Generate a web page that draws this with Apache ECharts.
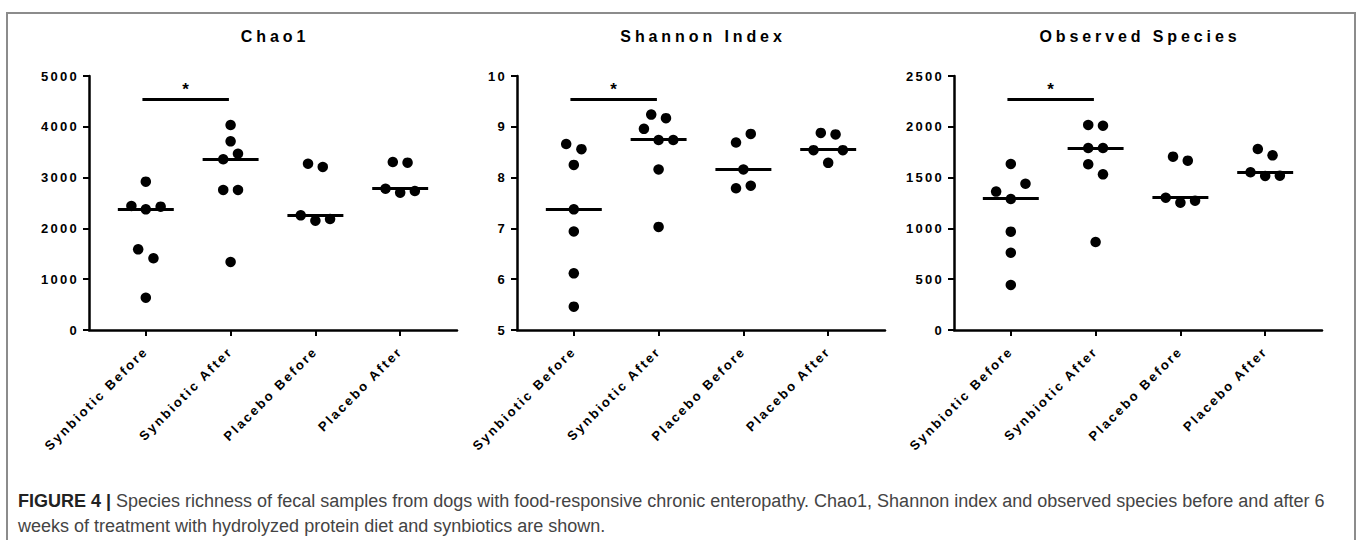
<!DOCTYPE html>
<html>
<head>
<meta charset="utf-8">
<script src="https://cdn.jsdelivr.net/npm/echarts@6/dist/echarts.min.js"></script>
<style>
  html, body { margin: 0; padding: 0; background: #fff; }
  #chart { width: 1358px; height: 540px; }
  #chart text[style*="13px"], #chart text[font-size="13px"] { letter-spacing: 2.3px; }
  #chart text[style*="16px"], #chart text[font-size="16px"] { letter-spacing: 3.9px; }
</style>
</head>
<body>
<div id="chart"></div>
<script>
// ---------- data ----------
const categories = ['Synbiotic Before', 'Synbiotic After', 'Placebo Before', 'Placebo After'];
const panelTitles = ['Chao1', 'Shannon Index', 'Observed Species'];

// Chao1
const chaoSynBefore = [2920, 2441, 2375, 2428, 1588, 1411, 636];
const chaoSynAfter = [4035, 3714, 3360, 3471, 2756, 2756, 1339];
const chaoPlaBefore = [3274, 3209, 2257, 2152, 2185];
const chaoPlaAfter = [3307, 3294, 2782, 2703, 2736];
const chaoMedians = [2380, 3365, 2262, 2787];
const chaoSigBar = 4547;

// Shannon index
const shanSynBefore = [8.66, 8.56, 8.25, 7.375, 6.94, 6.115, 5.46];
const shanSynAfter = [9.24, 9.17, 8.96, 8.74, 8.74, 8.16, 7.03];
const shanPlaBefore = [8.69, 8.86, 8.16, 7.79, 7.84];
const shanPlaAfter = [8.88, 8.85, 8.54, 8.54, 8.29];
const shanMedians = [7.375, 8.75, 8.17, 8.55];
const shanSigBar = 9.55;

// Observed species
const obsSynBefore = [1634, 1362, 1440, 1289, 968, 761, 443];
const obsSynAfter = [2018, 2011, 1791, 1791, 1631, 1532, 866];
const obsPlaBefore = [1706, 1667, 1302, 1253, 1273];
const obsPlaAfter = [1781, 1719, 1552, 1516, 1519];
const obsMedians = [1293, 1791, 1306, 1555];
const obsSigBar = 2273;

// horizontal spread of the dots within each group (x-axis units)
const chaoJitter = [
  [0, -0.17, 0, 0.175, -0.09, 0.09, 0],
  [0, 0, -0.087, 0.087, -0.087, 0.087, 0],
  [-0.087, 0.087, -0.173, 0, 0.173],
  [-0.087, 0.087, -0.173, 0, 0.173]
];
const shanJitter = [
  [-0.09, 0.09, 0, 0, 0, 0, 0],
  [-0.087, 0.087, -0.173, 0, 0.173, 0, 0],
  [-0.087, 0.087, 0, -0.087, 0.087],
  [-0.087, 0.087, -0.173, 0.173, 0]
];
const obsJitter = [
  [0, -0.173, 0.173, 0, 0, 0, 0],
  [-0.087, 0.087, -0.087, 0.087, -0.087, 0.087, 0],
  [-0.087, 0.087, -0.173, 0, 0.173],
  [-0.087, 0.087, -0.173, 0, 0.173]
];

// y-axis ranges
const yMin = [0, 5, 0];
const yMax = [5000, 10, 2500];
const yStep = [1000, 1, 500];

const captionBold = 'FIGURE 4 |';
const captionLine1 = ' Species richness of fecal samples from dogs with food-responsive chronic enteropathy. Chao1, Shannon index and observed species before and after 6';
const captionLine2 = 'weeks of treatment with hydrolyzed protein diet and synbiotics are shown.';

// ---------- build ----------
const panels = [
  { groups: [chaoSynBefore, chaoSynAfter, chaoPlaBefore, chaoPlaAfter], jitter: chaoJitter, medians: chaoMedians, sig: chaoSigBar },
  { groups: [shanSynBefore, shanSynAfter, shanPlaBefore, shanPlaAfter], jitter: shanJitter, medians: shanMedians, sig: shanSigBar },
  { groups: [obsSynBefore, obsSynAfter, obsPlaBefore, obsPlaAfter], jitter: obsJitter, medians: obsMedians, sig: obsSigBar }
];

const gridLefts = [89, 517, 954];
const gridWidth = 368;
const FONT = '"Liberation Sans", Arial, Helvetica, sans-serif';

const grids = [], xAxes = [], yAxes = [], series = [], graphics = [];

panels.forEach((p, i) => {
  grids.push({ left: gridLefts[i], top: 76, width: gridWidth, height: 254, containLabel: false, outerBoundsMode: 'none' });
  xAxes.push({
    type: 'value', gridIndex: i, min: 0.33, max: 4.67,
    axisLine: { show: true, onZero: false, lineStyle: { color: '#000', width: 2.5 } },
    axisTick: { show: true, customValues: [1, 2, 3, 4], length: 6, lineStyle: { color: '#000', width: 2 } },
    axisLabel: {
      show: true, customValues: [1, 2, 3, 4], rotate: 45, margin: 19,
      formatter: v => categories[Math.round(v) - 1] || '',
      fontSize: 13, fontWeight: 'bold', fontFamily: FONT, color: '#000'
    },
    splitLine: { show: false }
  });
  yAxes.push({
    type: 'value', gridIndex: i, min: yMin[i], max: yMax[i], interval: yStep[i],
    axisLine: { show: true, lineStyle: { color: '#000', width: 2.5 } },
    axisTick: { show: true, length: 6, lineStyle: { color: '#000', width: 2 } },
    axisLabel: { fontSize: 13, fontWeight: 'bold', fontFamily: FONT, color: '#000', margin: 10, formatter: v => String(v) },
    splitLine: { show: false }
  });

  const pts = [];
  p.groups.forEach((vals, g) => {
    vals.forEach((v, k) => pts.push([g + 1 + p.jitter[g][k], v]));
  });

  const mlData = p.medians.map((m, g) => [
    { coord: [g + 1 - 0.33, m], label: { show: false } },
    { coord: [g + 1 + 0.33, m] }
  ]);
  mlData.push([
    { coord: [0.96, p.sig], label: { show: true, formatter: '*', position: 'middle', distance: 1, fontSize: 17, fontWeight: 'bold', color: '#000', fontFamily: FONT } },
    { coord: [1.98, p.sig] }
  ]);

  series.push({
    type: 'scatter', xAxisIndex: i, yAxisIndex: i,
    symbol: 'circle', symbolSize: 10.5,
    itemStyle: { color: '#000', opacity: 1 },
    data: pts,
    silent: true,
    markLine: {
      silent: true, symbol: ['none', 'none'], animation: false,
      lineStyle: { color: '#000', width: 3, type: 'solid', opacity: 1 },
      emphasis: { disabled: true },
      data: mlData
    }
  });

  graphics.push({
    type: 'text', x: gridLefts[i] + gridWidth / 2 + 2, y: 36,
    style: { text: panelTitles[i], fontSize: 16, fontWeight: 'bold', fontFamily: FONT, fill: '#000', textAlign: 'center', textVerticalAlign: 'middle' }
  });
});

graphics.push({
  type: 'rect', shape: { x: 7, y: 13, width: 1348, height: 560 },
  style: { fill: 'none', stroke: '#8c8c8c', lineWidth: 2 }, silent: true
});
graphics.push({
  type: 'text', x: 18, y: 488,
  style: {
    text: '{b|' + captionBold + '}{n|' + captionLine1 + '}\n{n|' + captionLine2 + '}',
    rich: {
      b: { fontSize: 18, fontWeight: 'bold', fontFamily: FONT, fill: '#222', lineHeight: 25 },
      n: { fontSize: 18, fontWeight: 'normal', fontFamily: FONT, fill: '#444', lineHeight: 25 }
    }
  }
});

const chart = echarts.init(document.getElementById('chart'), null, { renderer: 'svg', width: 1358, height: 540 });
chart.setOption({
  animation: false,
  backgroundColor: '#fff',
  grid: grids, xAxis: xAxes, yAxis: yAxes, series: series,
  graphic: graphics
});
</script>
</body>
</html>
